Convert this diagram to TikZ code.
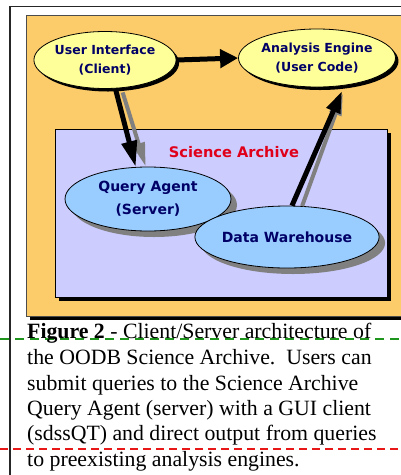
\documentclass[tikz,border=0pt]{standalone}
\usepackage{fontspec}
\setmainfont{Liberation Serif}
\newfontfamily\lblfont{DejaVu Sans}
\usetikzlibrary{shapes.geometric,arrows.meta,calc,shadows}
\definecolor{orangebg}{HTML}{FCCB6A}
\definecolor{lav}{HTML}{CCCCFF}
\definecolor{yel}{HTML}{FFFF99}
\definecolor{lblue}{HTML}{99CCFF}
\definecolor{navy}{HTML}{000066}
\definecolor{redtxt}{HTML}{E0001A}
\definecolor{grn}{HTML}{1E961E}
\definecolor{dred}{HTML}{E81818}
\begin{document}
\begin{tikzpicture}[x=1pt,y=-1pt,
  ell/.style={ellipse,draw=black,line width=0.8pt,inner sep=0pt,align=center,text=navy},
  yshad/.style={drop shadow={shadow xshift=3pt,shadow yshift=-3pt,fill=black,opacity=1}},
  bshad/.style={drop shadow={shadow xshift=6pt,shadow yshift=-6pt,fill=gray,opacity=1}},
  smalllbl/.style={font=\lblfont\bfseries\fontsize{12.5}{19}\selectfont},
  biglbl/.style={font=\lblfont\bfseries\fontsize{14}{23}\selectfont},
  blk/.style={draw=black,line width=5pt},
  gry/.style={draw=gray,line width=4pt},
  captext/.style={anchor=base west,inner sep=0pt,font=\fontsize{21.8}{25}\selectfont}
]
\useasboundingbox (0,0) rectangle (401,475);
\clip (0,0) rectangle (401,475);
\fill[white] (0,0) rectangle (401,475);
% outer frame
\draw[line width=1.5pt,black!85] (10,480) -- (10,6.5) -- (410,6.5);
% orange panel with shadow
\fill[black] (30,19) rectangle (410,320);
\filldraw[fill=orangebg,draw=black!70,line width=0.8pt] (26,15) rectangle (410,316);
% lavender panel with shadow
\fill[black] (59,133) rectangle (391,301);
\filldraw[fill=lav,draw=black,line width=0.8pt] (55,129) rectangle (387,297);
\node[font=\lblfont\bfseries\fontsize{14.6}{18}\selectfont,text=redtxt] (archive) at (234,152) {Science Archive};
% ellipses
\node[ell,yshad,smalllbl,fill=yel,minimum width=136pt,minimum height=57pt] (ui) at (105,60) {User Interface\\(Client)};
\node[ell,yshad,smalllbl,fill=yel,minimum width=140pt,minimum height=58pt] (ae) at (317,58) {Analysis Engine\\(User Code)};
\node[ell,bshad,biglbl,fill=lblue,minimum width=166pt,minimum height=64pt] (qa) at (148,199) {Query Agent\\(Server)};
\node[ell,bshad,biglbl,fill=lblue,minimum width=172pt,minimum height=62pt] (dw) at (287,237) {Data Warehouse};
% arrows
\draw[blk,-{Triangle[length=18pt,width=18pt]}] (ui.east) -- (ae.west);
\draw[gry,-{Triangle[length=24pt,width=12pt]}] ($(ui.-66)+(5,4)$) -- (qa.94);
\draw[blk,-{Triangle[length=26pt,width=15pt]}] (ui.-70) -- (qa.111);
\draw[gry,-{Triangle[length=22pt,width=12pt]}] (dw.64) -- ($(ae.-55)+(6,7)$);
\draw[blk,-{Triangle[length=22pt,width=14pt]}] (dw.81) -- ($(ae.-48)+(0,5)$);
% dashed guide lines
\draw[grn,line width=1.2pt,dash pattern=on 9pt off 6pt] (0,339) -- (401,339);
\draw[dred,line width=1.2pt,dash pattern=on 8pt off 5pt] (0,449) -- (401,449);
% caption
\node[captext] (c1) at (27,338) {\textbf{Figure 2} - Client/Server architecture of};
\node[captext] (c2) at (27,364) {the OODB Science Archive.\ \ Users can};
\node[captext] (c3) at (27,390) {submit queries to the Science Archive};
\node[captext] (c4) at (27,415) {Query Agent (server) with a GUI client};
\node[captext] (c5) at (27,440) {(sdssQT) and direct output from queries};
\node[captext] (c6) at (27,466) {to preexisting analysis engines.};
\end{tikzpicture}
\end{document}
